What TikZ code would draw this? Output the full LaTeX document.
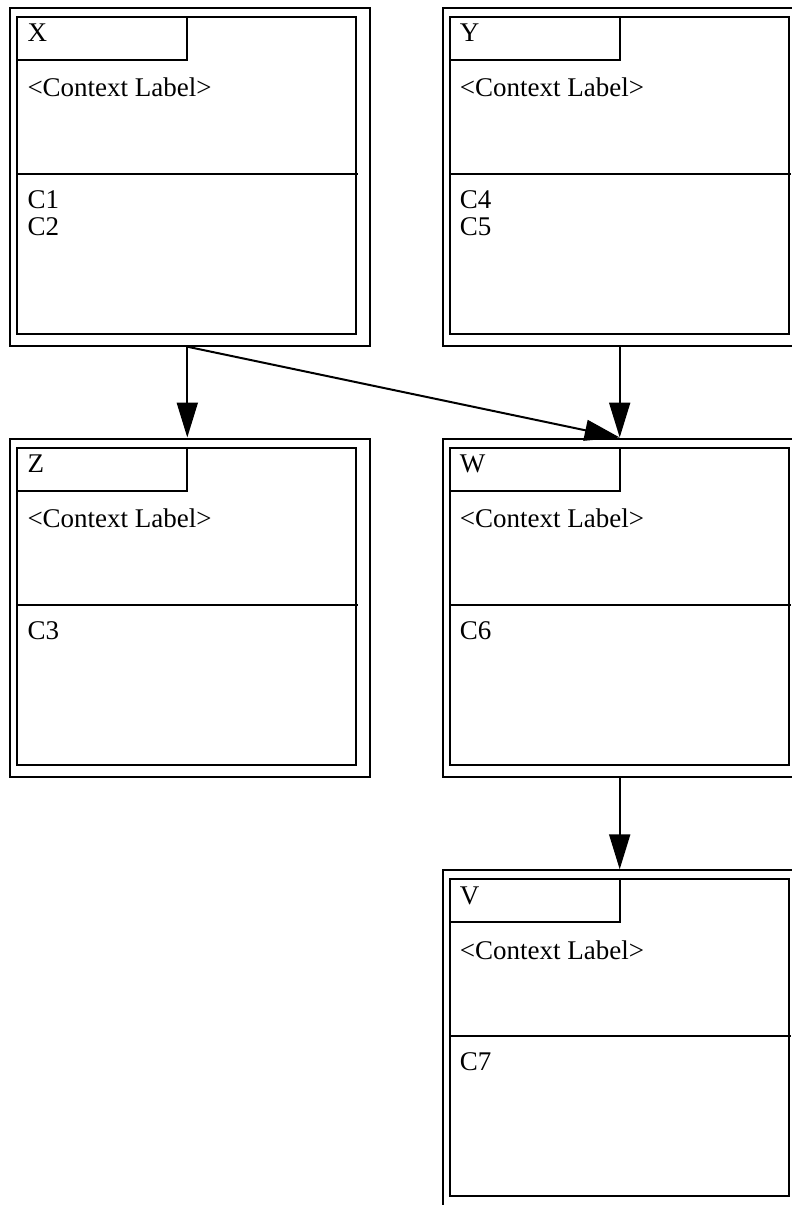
\documentclass[tikz,border=0pt]{standalone}
\usepackage{fontspec}
\setmainfont{Liberation Serif}
\usetikzlibrary{arrows.meta}

\tikzset{
	ctxbox/.style={draw, line width=2pt, minimum width=360pt, minimum height=338pt, inner sep=0pt, anchor=north west},
	ctxline/.style={line width=2pt},
	ctxtext/.style={anchor=base west, inner sep=0pt, font=\fontsize{27}{27}\selectfont},
	flow/.style={line width=2pt, -{Triangle[length=35pt,width=21pt]}}
}

\begin{document}
\begin{tikzpicture}[x=1pt,y=-1pt]
	\useasboundingbox (0,0) rectangle (792,1205);
	% context boxes
		\foreach \n/\x/\y/\c in {X/9.3/6.7/{C1\\C2}, Y/441.7/6.7/{C4\\C5}, Z/9.3/437.5/C3, W/441.7/437.5/C6, V/441.7/869.3/C7}{
			\node[ctxbox] (\n) at (\x,\y) {};
			\draw[ctxline] (\n.north west) ++(8,10) rectangle ++(339,317);
			\draw[ctxline] (\n.north west) ++(8,10) rectangle ++(170,43);
			\coordinate (\n-tab) at ([shift={(178,53)}]\n.north west);
			\draw[ctxline] ([shift={(8,167)}]\n.north west) -- ++(341,0);
			\node[ctxtext] (\n-title) at ([shift={(18,35)}]\n.north west) {\n};
			\node[ctxtext] (\n-label) at ([shift={(18,90)}]\n.north west) {<Context Label>};
			\node[ctxtext] (\n-items) at ([shift={(18,201.5)}]\n.north west) {\begin{tabular}[t]{@{}l@{}}\c\end{tabular}};
		}
	% dependencies
		\draw[flow] (X.south -| X-tab) -- (Z.north -| X-tab);
		\draw[flow] (X.south -| X-tab) -- (W.north -| Y-tab);
		\draw[flow] (Y.south -| Y-tab) -- (W.north -| Y-tab);
		\draw[flow] (W.south -| W-tab) -- (V.north -| W-tab);
\end{tikzpicture}
\end{document}
